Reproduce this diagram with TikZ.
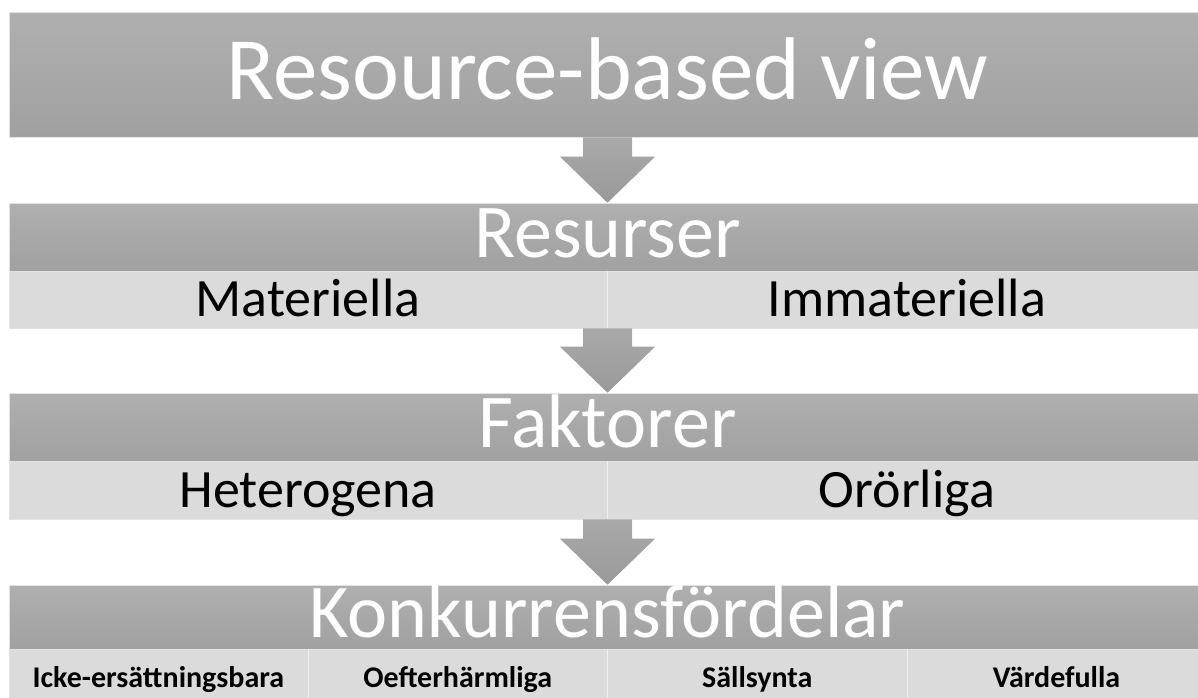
\documentclass[tikz,border=0pt]{standalone}
\usepackage{fontspec}
\setmainfont{Carlito}
\usetikzlibrary{calc}

\definecolor{bandtop}{HTML}{AFAFAF}
\definecolor{bandbot}{HTML}{A1A1A1}
\definecolor{barfill}{HTML}{DBDBDB}
\definecolor{edgeline}{HTML}{E2E2E2}
\definecolor{arrowtop}{HTML}{A9A9A9}
\definecolor{arrowbot}{HTML}{999999}

\tikzset{
	darkband/.style={minimum width=1197pt, minimum height=#1, inner sep=0pt,
		top color=bandtop, bottom color=bandbot, draw=edgeline, line width=.6pt,
		text=white, text depth=7pt},
	lightband/.style={minimum width=1197pt, minimum height=#1, inner sep=0pt,
		fill=barfill, draw=edgeline, line width=.6pt},
	itemtext/.style={inner sep=0pt, text height=34pt, text depth=0pt,
		font=\fontsize{54}{54}\selectfont},
	celltext/.style={inner sep=0pt, text height=19pt, text depth=0pt,
		font=\fontsize{30}{30}\selectfont\bfseries},
	divline/.style={draw=white!55!barfill, line width=.8pt},
	blockarrow/.style={top color=arrowtop, bottom color=arrowbot}
}

\begin{document}
\begin{tikzpicture}[x=1pt, y=-1pt]
	\useasboundingbox (0,0) rectangle (1198,697);

	% Resource-based view
	\node[darkband=125pt, text height=56pt, font=\fontsize{89}{89}\selectfont] (top) at (607.5,74.5) {Resource-based view};

	% Resurser
	\node[darkband=68pt, text height=48pt, font=\fontsize{76}{76}\selectfont] (res) at (607.5,237) {Resurser};
	\node[lightband=57pt] (resbar) at (607.5,299.5) {};
	\draw[divline] (resbar.north) -- (resbar.south);
	\node[itemtext] (mat) at ($(resbar.west)!.25!(resbar.east)$) {Materiella};
	\node[itemtext] (imm) at ($(resbar.west)!.75!(resbar.east)$) {Immateriella};

	% Faktorer
	\node[darkband=68pt, text height=48pt, font=\fontsize{76}{76}\selectfont] (fak) at (607.5,427) {Faktorer};
	\node[lightband=58pt] (fakbar) at (607.5,490) {};
	\draw[divline] (fakbar.north) -- (fakbar.south);
	\node[itemtext] (het) at ($(fakbar.west)!.25!(fakbar.east)$) {Heterogena};
	\node[itemtext] (oro) at ($(fakbar.west)!.75!(fakbar.east)$) {Orörliga};

	% Konkurrensfördelar
	\node[darkband=64pt, text height=48pt, font=\fontsize{76}{76}\selectfont] (kon) at (607.5,617) {Konkurrensfördelar};
	\node[lightband=58pt] (konbar) at (607.5,678) {};
	\foreach \f in {.25,.5,.75}
		\draw[divline] ($(konbar.north west)!\f!(konbar.north east)$) -- ($(konbar.south west)!\f!(konbar.south east)$);
	\node[celltext] (ick) at ($(konbar.west)!.125!(konbar.east)$) {Icke-ersättningsbara};
	\node[celltext] (oef) at ($(konbar.west)!.375!(konbar.east)$) {Oefterhärmliga};
	\node[celltext] (sal) at ($(konbar.west)!.625!(konbar.east)$) {Sällsynta};
	\node[celltext] (var) at ($(konbar.west)!.875!(konbar.east)$) {Värdefulla};

	% arrows
	\foreach \a/\b in {top/res, resbar/fak, fakbar/kon}
		\shade[blockarrow] let \p1=(\a.south), \p2=(\b.north) in
			(\x1-24.5pt,\y1) -- (\x1-24.5pt,\y2+46pt) -- (\x1-47.5pt,\y2+46pt) -- (\p2)
			-- (\x1+47.5pt,\y2+46pt) -- (\x1+24.5pt,\y2+46pt) -- (\x1+24.5pt,\y1) -- cycle;
\end{tikzpicture}
\end{document}
